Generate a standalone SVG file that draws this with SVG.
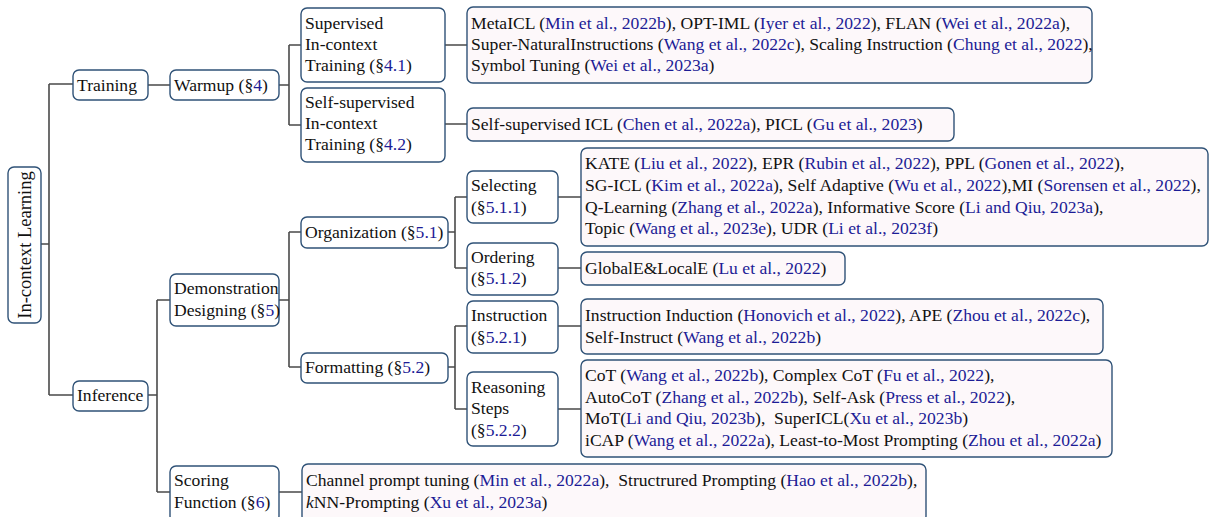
<svg xmlns="http://www.w3.org/2000/svg" width="1211" height="517" viewBox="0 0 1211 517">
<style>
.n{fill:#ffffff;stroke:#2f5277;stroke-width:1.4}
.l{fill:#fdf8fa;stroke:#2f5277;stroke-width:1.4}
.c{fill:none;stroke:#4a4a4a;stroke-width:1.6}
text{font-family:"Liberation Serif","Times New Roman",serif;font-size:17.6px;fill:#111111;white-space:pre}
.b{fill:#1c1c96}
.r{font-size:18.5px}
</style>
<rect width="1211" height="517" fill="#ffffff"/>
<g id="connectors">
<path class="c" d="M41 244H49M49 84V395M49 84H73M49 395H73"/>
<path class="c" d="M148 85H170M279 85H289M289 45V125M289 45H301M289 125H301"/>
<path class="c" d="M445 45H467M445 124H467"/>
<path class="c" d="M148 395H157M157 300V492M157 300H170M157 492H170"/>
<path class="c" d="M279 300H289M289 232V367M289 232H301M289 367H301"/>
<path class="c" d="M448 232H455M455 197V268M455 197H467M455 268H467"/>
<path class="c" d="M448 367H455M455 326V409M455 326H467M455 409H467"/>
<path class="c" d="M558 197H581M558 268H581M558 326H581M558 409H581M279 492H302"/>
</g>
<g id="root"><rect class="n" x="8" y="167" width="33" height="156" rx="6"/><text class="r" transform="translate(30.5 245) rotate(-90)" text-anchor="middle">In-context Learning</text></g>
<g id="training"><rect class="n" x="73" y="70" width="75" height="30" rx="6"/><text x="77" y="91">Training</text></g>
<g id="inference"><rect class="n" x="73" y="381" width="75" height="30" rx="6"/><text x="77" y="401">Inference</text></g>
<g id="warmup"><rect class="n" x="170" y="70" width="109" height="30" rx="6"/><text x="174" y="91">Warmup (§<tspan class="b">4</tspan>)</text></g>
<g id="supervised"><rect class="n" x="301" y="8" width="144" height="74" rx="6"/><text x="305" y="29">Supervised</text><text x="305" y="50">In-context</text><text x="305" y="71">Training (§<tspan class="b">4.1</tspan>)</text></g>
<g id="selfsupervised"><rect class="n" x="301" y="88" width="144" height="74" rx="6"/><text x="305" y="108">Self-supervised</text><text x="305" y="129">In-context</text><text x="305" y="150">Training (§<tspan class="b">4.2</tspan>)</text></g>
<g id="leaf-supervised"><rect class="l" x="467" y="7" width="625" height="76" rx="6"/>
<text x="471" y="29">MetaICL (<tspan class="b">Min et al., 2022b</tspan>), OPT-IML (<tspan class="b">Iyer et al., 2022</tspan>), FLAN (<tspan class="b">Wei et al., 2022a</tspan>),</text>
<text x="471" y="50">Super-NaturalInstructions (<tspan class="b">Wang et al., 2022c</tspan>), Scaling Instruction (<tspan class="b">Chung et al., 2022</tspan>),</text>
<text x="471" y="71">Symbol Tuning (<tspan class="b">Wei et al., 2023a</tspan>)</text></g>
<g id="leaf-selfsupervised"><rect class="l" x="467" y="108" width="487" height="33" rx="6"/>
<text x="471" y="130">Self-supervised ICL (<tspan class="b">Chen et al., 2022a</tspan>), PICL (<tspan class="b">Gu et al., 2023</tspan>)</text></g>
<g id="demonstration"><rect class="n" x="170" y="274" width="109" height="52" rx="6"/><text x="174" y="294">Demonstration</text><text x="174" y="316">Designing (§<tspan class="b">5</tspan>)</text></g>
<g id="scoring"><rect class="n" x="170" y="466" width="109" height="56" rx="6"/><text x="174" y="486">Scoring</text><text x="174" y="508">Function (§<tspan class="b">6</tspan>)</text></g>
<g id="organization"><rect class="n" x="301" y="217" width="147" height="31" rx="6"/><text x="305" y="238">Organization (§<tspan class="b">5.1</tspan>)</text></g>
<g id="formatting"><rect class="n" x="301" y="353" width="147" height="30" rx="6"/><text x="305" y="373">Formatting (§<tspan class="b">5.2</tspan>)</text></g>
<g id="selecting"><rect class="n" x="467" y="171" width="91" height="52" rx="6"/><text x="471" y="191">Selecting</text><text x="471" y="213">(§<tspan class="b">5.1.1</tspan>)</text></g>
<g id="ordering"><rect class="n" x="467" y="243" width="91" height="52" rx="6"/><text x="471" y="263">Ordering</text><text x="471" y="284">(§<tspan class="b">5.1.2</tspan>)</text></g>
<g id="instruction"><rect class="n" x="467" y="301" width="91" height="52" rx="6"/><text x="471" y="321">Instruction</text><text x="471" y="343">(§<tspan class="b">5.2.1</tspan>)</text></g>
<g id="reasoning"><rect class="n" x="467" y="372" width="91" height="74" rx="6"/><text x="471" y="393">Reasoning</text><text x="471" y="414">Steps</text><text x="471" y="436">(§<tspan class="b">5.2.2</tspan>)</text></g>
<g id="leaf-selecting"><rect class="l" x="581" y="148" width="627" height="98" rx="6"/>
<text x="585" y="169">KATE (<tspan class="b">Liu et al., 2022</tspan>), EPR (<tspan class="b">Rubin et al., 2022</tspan>), PPL (<tspan class="b">Gonen et al., 2022</tspan>),</text>
<text x="585" y="191">SG-ICL (<tspan class="b">Kim et al., 2022a</tspan>), Self Adaptive (<tspan class="b">Wu et al., 2022</tspan>),MI (<tspan class="b">Sorensen et al., 2022</tspan>),</text>
<text x="585" y="213">Q-Learning (<tspan class="b">Zhang et al., 2022a</tspan>), Informative Score (<tspan class="b">Li and Qiu, 2023a</tspan>),</text>
<text x="585" y="234">Topic (<tspan class="b">Wang et al., 2023e</tspan>), UDR (<tspan class="b">Li et al., 2023f</tspan>)</text></g>
<g id="leaf-ordering"><rect class="l" x="581" y="252" width="264" height="33" rx="6"/>
<text x="585" y="274">GlobalE&amp;LocalE (<tspan class="b">Lu et al., 2022</tspan>)</text></g>
<g id="leaf-instruction"><rect class="l" x="581" y="299" width="522" height="55" rx="6"/>
<text x="585" y="321">Instruction Induction (<tspan class="b">Honovich et al., 2022</tspan>), APE (<tspan class="b">Zhou et al., 2022c</tspan>),</text>
<text x="585" y="343">Self-Instruct (<tspan class="b">Wang et al., 2022b</tspan>)</text></g>
<g id="leaf-reasoning"><rect class="l" x="581" y="360" width="531" height="97" rx="6"/>
<text x="585" y="381">CoT (<tspan class="b">Wang et al., 2022b</tspan>), Complex CoT (<tspan class="b">Fu et al., 2022</tspan>),</text>
<text x="585" y="403">AutoCoT (<tspan class="b">Zhang et al., 2022b</tspan>), Self-Ask (<tspan class="b">Press et al., 2022</tspan>),</text>
<text x="585" y="424">MoT(<tspan class="b">Li and Qiu, 2023b</tspan>),  SuperICL(<tspan class="b">Xu et al., 2023b</tspan>)</text>
<text x="585" y="446">iCAP (<tspan class="b">Wang et al., 2022a</tspan>), Least-to-Most Prompting (<tspan class="b">Zhou et al., 2022a</tspan>)</text></g>
<g id="leaf-scoring"><rect class="l" x="302" y="464" width="624" height="58" rx="6"/>
<text x="306" y="486">Channel prompt tuning (<tspan class="b">Min et al., 2022a</tspan>),  Structrured Prompting (<tspan class="b">Hao et al., 2022b</tspan>),</text>
<text x="306" y="508"><tspan font-style="italic">k</tspan>NN-Prompting (<tspan class="b">Xu et al., 2023a</tspan>)</text></g>
</svg>
